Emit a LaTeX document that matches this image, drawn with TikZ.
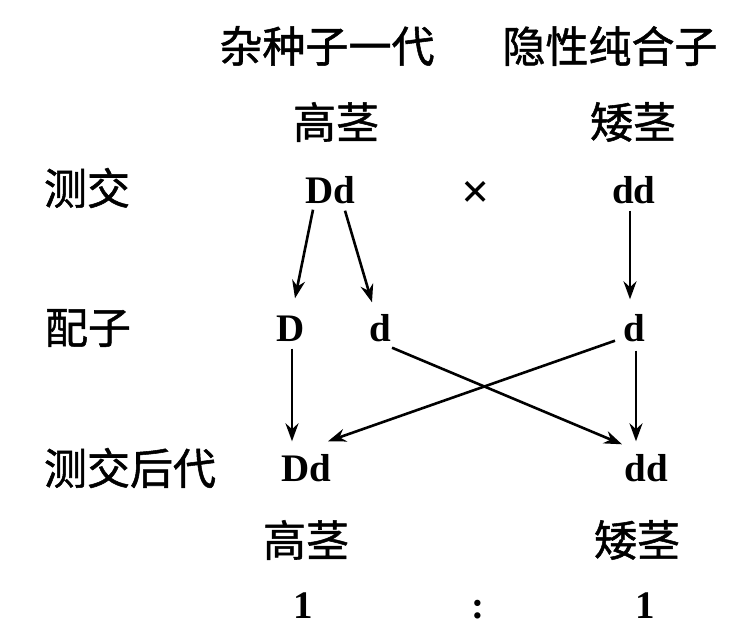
\documentclass[tikz,border=0pt]{standalone}
\usepackage{fontspec}
\setmainfont{Liberation Serif}
\newfontfamily\cjk{Noto Sans CJK SC}[FakeBold=1.2]
\newfontfamily\lat{Liberation Serif}[BoldFont={Liberation Serif Bold}]
\usetikzlibrary{arrows.meta}
\begin{document}
\begin{tikzpicture}[x=1pt,y=-1pt,
  cj/.style={font=\cjk\fontsize{43}{43}\selectfont, inner sep=0},
  lt/.style={font=\lat\bfseries\fontsize{39}{39}\selectfont, inner sep=0, text height=27pt, text depth=0pt},
  arr/.style={line width=2.6pt, -{Stealth[length=18pt,width=13pt]}}]
\useasboundingbox (0,0) rectangle (750,642);
% headers
\node[cj] (h1) at (327,46) {杂种子一代};
\node[cj] (h2) at (610,46) {隐性纯合子};
\node[cj] (p1) at (336,122) {高茎};
\node[cj] (p2) at (633,122) {矮茎};
% row labels
\node[cj] (l1) at (87,188) {测交};
\node[cj] (l2) at (88,328) {配子};
\node[cj] (l3) at (130,468) {测交后代};
% genotypes
\node[lt] (Dd1) at (330,190) {Dd};
\node[lt,font=\lat\bfseries\fontsize{50}{50}\selectfont] (x) at (476,195) {×};
\node[lt] (dd1) at (634,190) {dd};
\node[lt] (D) at (291,328) {D};
\node[lt] (d1) at (380,328) {d};
\node[lt] (d2) at (634,328) {d};
\node[lt] (Dd2) at (306,468) {Dd};
\node[lt] (dd2) at (646,468) {dd};
% phenotypes
\node[cj] (q1) at (306,540) {高茎};
\node[cj] (q2) at (637,540) {矮茎};
\node[lt] (r1) at (303,605) {1};
\node[lt] (rc) at (478,605) {:};
\node[lt] (r2) at (645,605) {1};
% arrows
\draw[arr] ([shift={(-17,6)}]Dd1.south) -- ([shift={(4,-16)}]D.north);
\draw[arr] ([shift={(15,7)}]Dd1.south) -- ([shift={(-8,-12)}]d1.north);
\draw[arr] ([shift={(-4,7)}]dd1.south) -- ([shift={(-4,-15)}]d2.north);
\draw[arr] ([shift={(1,7)}]D.south) -- ([shift={(-14,-13)}]Dd2.north);
\draw[arr] ([shift={(12,6)}]d1.south) -- ([shift={(-24,-10)}]dd2.north);
\draw[arr] ([shift={(-19,-1)}]d2.south) -- ([shift={(22,-13)}]Dd2.north);
\draw[arr] ([shift={(2,9)}]d2.south) -- ([shift={(-10,-13)}]dd2.north);
\end{tikzpicture}
\end{document}
